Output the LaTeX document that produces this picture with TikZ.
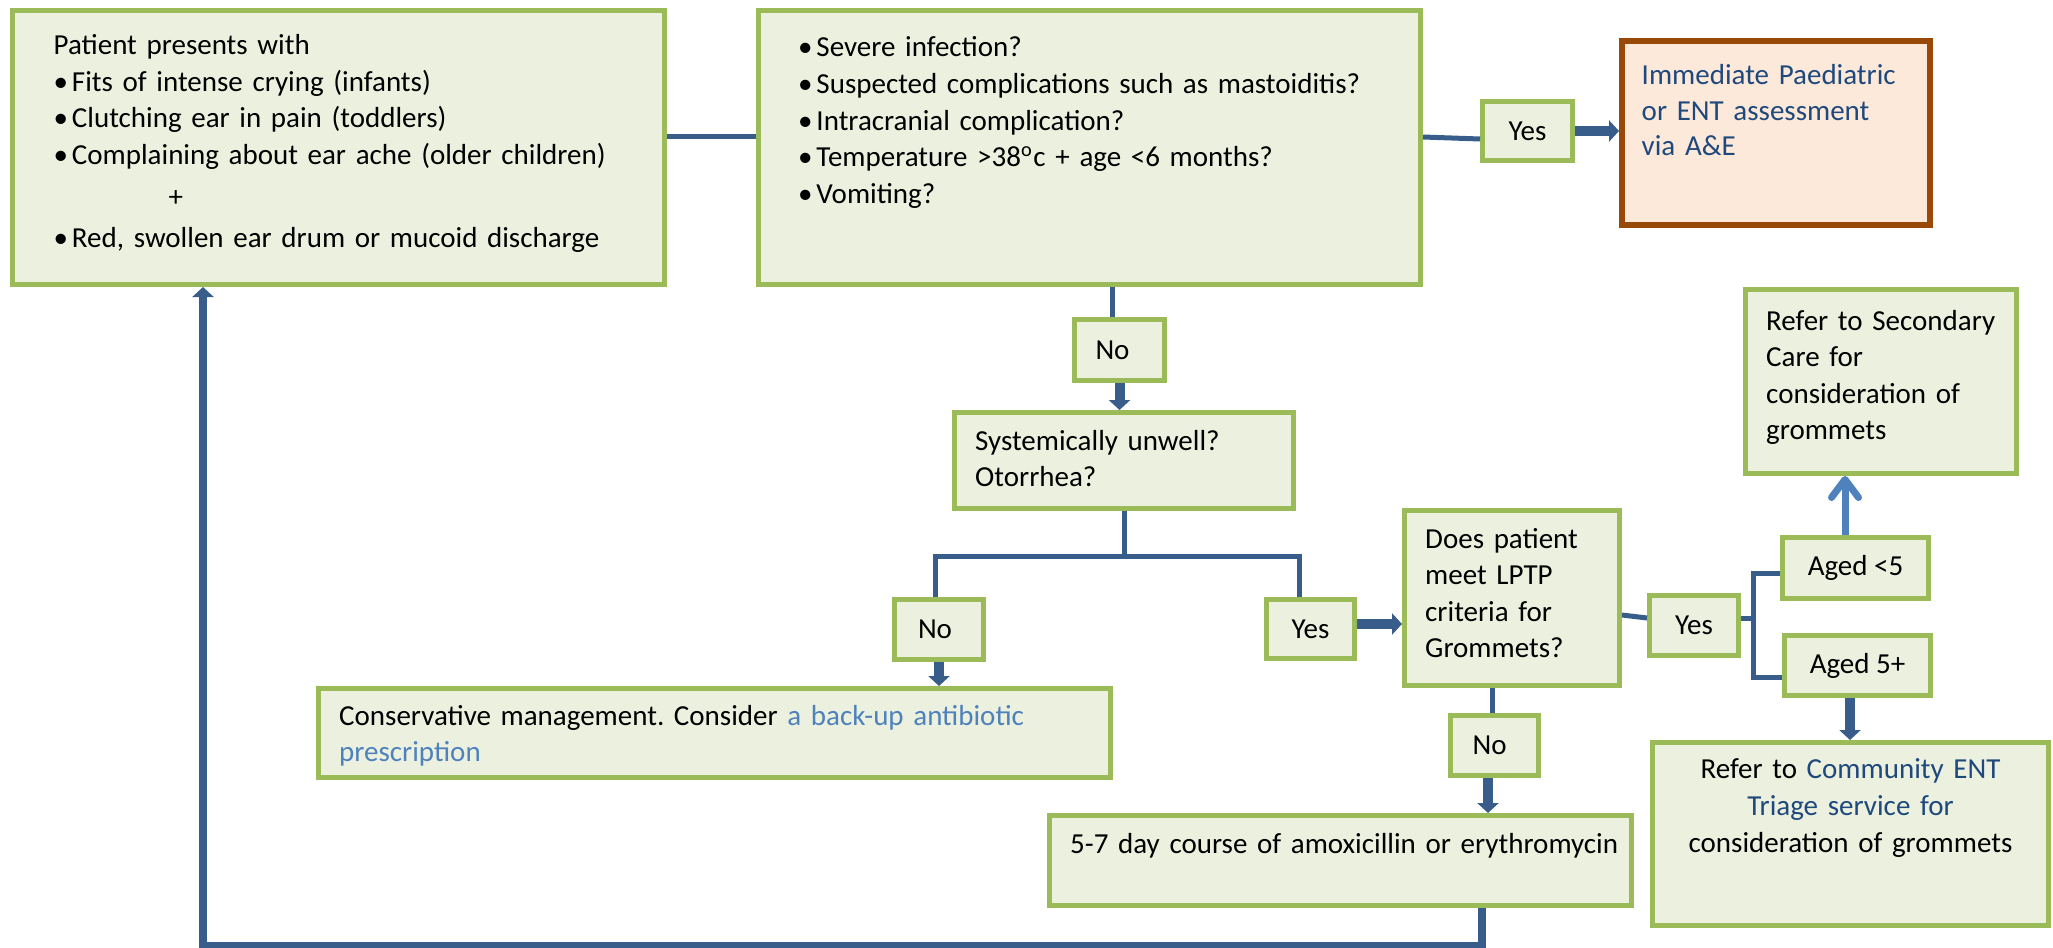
\documentclass[tikz,border=0pt]{standalone}
\usepackage{fontspec}
\setmainfont{Carlito}
\usepackage{tikz}
\usetikzlibrary{arrows.meta}

\definecolor{boxfill}{HTML}{EBF1DE}
\definecolor{boxline}{HTML}{9BBB59}
\definecolor{urgfill}{HTML}{FDE9D9}
\definecolor{urgline}{HTML}{984807}
\definecolor{conn}{HTML}{385D8A}
\definecolor{connlight}{HTML}{4F81BD}
\definecolor{linkdark}{HTML}{1F497D}
\definecolor{linklight}{HTML}{4F81BD}

\newcommand{\itm}{\makebox[5.2pt][l]{\textbullet}}

\tikzset{
	box/.style={draw=boxline, fill=boxfill, line width=0.05cm, inner sep=0pt, font=\fontsize{8.25}{10.4}\selectfont},
	urgent/.style={draw=urgline, fill=urgfill, line width=0.06cm, inner sep=0pt},
	txt/.style={anchor=base west, inner sep=0pt, align=left, text width=#1, font=\fontsize{8.25}{10.4}\selectfont\frenchspacing},
	txtc/.style={anchor=base, inner sep=0pt, align=center, text width=#1, font=\fontsize{8.25}{10.6}\selectfont\frenchspacing},
	link/.style={draw=conn, line width=0.05cm},
	bigarrow/.style={draw=conn, line width=0.10cm, -{Triangle[width=0.21cm, length=0.10cm]}},
	loopline/.style={draw=conn, line width=0.08cm, -{Triangle[width=0.21cm, length=0.10cm]}},
	uparrow/.style={draw=connlight, line width=0.07cm, -{Straight Barb[width=0.27cm, length=0.18cm, round]}}
}

\begin{document}
\begin{tikzpicture}

		%%Location
		\useasboundingbox (0,0) rectangle (20.53,-9.47);

		%%Boxes
		\node[box, minimum width=6.52cm, minimum height=2.74cm] (pat) at (3.385,-1.475) {};
		\node[box, minimum width=6.62cm, minimum height=2.74cm] (qst) at (10.895,-1.475) {};
		\node[urgent, minimum width=3.08cm, minimum height=1.84cm] (imm) at (17.76,-1.33) {};
		\node[box, minimum width=3.39cm, minimum height=0.96cm] (sys) at (11.24,-4.605) {};
		\node[box, minimum width=2.15cm, minimum height=1.75cm] (does) at (15.12,-5.98) {};
		\node[box, minimum width=2.71cm, minimum height=1.84cm] (refS) at (18.81,-3.815) {};
		\node[box, minimum width=7.92cm, minimum height=0.89cm] (cons) at (7.145,-7.33) {};
		\node[box, minimum width=5.82cm, minimum height=0.90cm] (five) at (13.405,-8.605) {};
		\node[box, minimum width=3.96cm, minimum height=1.83cm] (refC) at (18.505,-8.34) {};

		%%Answers
		\node[box, minimum width=0.90cm, minimum height=0.59cm] (yesA) at (15.275,-1.31) {Yes};
		\node[box, minimum width=0.90cm, minimum height=0.61cm] (noA) at (11.195,-3.50) {No\hspace*{0.14cm}};
		\node[box, minimum width=0.89cm, minimum height=0.60cm] (noB) at (9.39,-6.295) {No\hspace*{0.08cm}};
		\node[box, minimum width=0.88cm, minimum height=0.59cm] (yesB) at (13.105,-6.29) {Yes};
		\node[box, minimum width=0.89cm, minimum height=0.60cm] (yesC) at (16.94,-6.255) {Yes};
		\node[box, minimum width=1.46cm, minimum height=0.61cm] (ageA) at (18.555,-5.68) {Aged <5};
		\node[box, minimum width=1.46cm, minimum height=0.60cm] (ageB) at (18.575,-6.655) {Aged 5+};
		\node[box, minimum width=0.88cm, minimum height=0.60cm] (noC) at (14.945,-7.455) {No\hspace*{0.10cm}};

		%%Label
		\node[txt=6cm] (patT) at ([shift={(0.43,-0.465)}]pat.north west)
			{Patient presents with\\ \itm Fits of intense crying (infants)\\ \itm Clutching ear in pain (toddlers)\\ \itm Complaining about ear ache (older children)\\[1.6pt] \hspace*{1.15cm}+\\[1.4pt] \itm Red, swollen ear drum or mucoid discharge};
		\node[txt=6.2cm] (qstT) at ([shift={(0.415,-0.49)}]qst.north west)
			{\itm Severe infection?\\ \itm Suspected complications such as mastoiditis?\\ \itm Intracranial complication?\\ \itm Temperature >38\textsuperscript{o}c + age <6 months?\\ \itm Vomiting?};
		\node[txt=2.9cm, text=linkdark, font=\fontsize{8.25}{10.0}\selectfont] (immT) at ([shift={(0.22,-0.47)}]imm.north west)
			{Immediate Paediatric\\ or ENT assessment\\ via A\&E};
		\node[txt=3.1cm] (sysT) at ([shift={(0.225,-0.40)}]sys.north west) {Systemically unwell?\\ Otorrhea?};
		\node[txt=1.9cm] (doesT) at ([shift={(0.225,-0.40)}]does.north west) {Does patient\\ meet LPTP\\ criteria for\\ Grommets?};
		\node[txt=2.5cm] (refST) at ([shift={(0.225,-0.43)}]refS.north west) {Refer to Secondary\\ Care for\\ consideration of\\ grommets};
		\node[txt=7.6cm] (consT) at ([shift={(0.225,-0.39)}]cons.north west)
			{Conservative management. Consider {\color{linklight}a back-up antibiotic}\\ {\color{linklight}prescription}};
		\node[txt=5.6cm] (fiveT) at ([shift={(0.225,-0.40)}]five.north west) {5-7 day course of amoxicillin or erythromycin};
		\node[txtc=3.9cm] (refCT) at ([yshift=-0.38cm]refC.north)
			{Refer to {\color{linkdark}Community ENT}\\ {\color{linkdark}Triage service for}\\ consideration of grommets};

		%%Connectors
		\draw[link] ([yshift=0.105cm]pat.east) -- ([yshift=0.105cm]pat.east -| qst.west);
		\draw[link] ([yshift=0.105cm]qst.east) -- ([yshift=-0.08cm]yesA.west);
		\draw[bigarrow] (yesA.east) -- (yesA.east -| imm.west);
		\draw[link] ([xshift=-0.075cm]noA.north) -- ([xshift=-0.075cm]noA.north |- qst.south);
		\draw[bigarrow] (noA.south) -- (noA.south |- sys.north);
		\draw[link] (sys.south) -- ++(0,-0.455) coordinate (forkA);
		\draw[link] ([xshift=-0.04cm]noB.north) |- (forkA) -| ([xshift=-0.115cm]yesB.north);
		\draw[bigarrow] (noB.south) -- (noB.south |- cons.north);
		\draw[bigarrow] ([yshift=0.05cm]yesB.east) -- ([yshift=0.05cm]yesB.east -| does.west);
		\draw[link] ([yshift=-0.17cm]does.east) -- ([yshift=0.075cm]yesC.west);
		\draw[link] ([yshift=0.075cm]yesC.east) -- ++(0.12,0) coordinate (forkB);
		\draw[link] ([yshift=-0.05cm]ageA.west) -| (forkB) |- ([yshift=-0.115cm]ageB.west);
		\draw[uparrow] ([xshift=-0.105cm]ageA.north) -- ([xshift=-0.105cm]ageA.north |- refS.south);
		\draw[bigarrow] ([xshift=-0.075cm]ageB.south) -- ([xshift=-0.075cm]ageB.south |- refC.north);
		\draw[link] ([xshift=-0.025cm]noC.north) -- ([xshift=-0.025cm]noC.north |- does.south);
		\draw[bigarrow] ([xshift=-0.065cm]noC.south) -- ([xshift=-0.065cm]noC.south |- five.north);

		%%Back to start
		\coordinate (low) at (0,-9.455);
		\draw[loopline] ([xshift=1.415cm]five.south) -- ([xshift=1.415cm]five.south |- low) -| ([xshift=-1.355cm]pat.south);

\end{tikzpicture}
\end{document}
